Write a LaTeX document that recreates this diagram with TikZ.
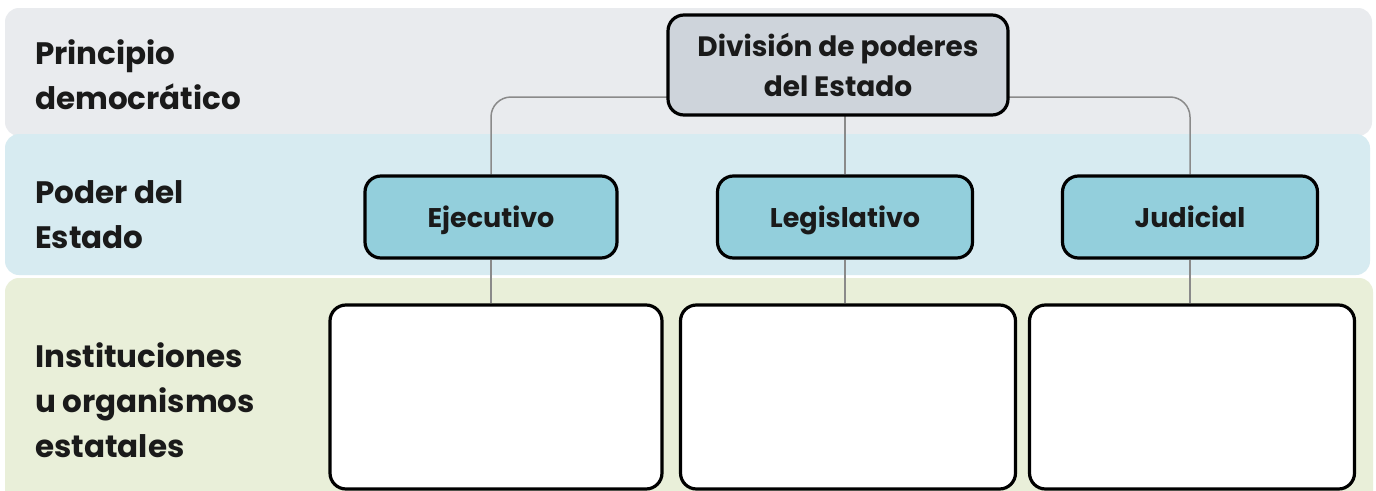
\documentclass[tikz,border=0pt]{standalone}
\usepackage{fontspec}
\setmainfont{Poppins}
\pgfdeclarelayer{bg}
\pgfdeclarelayer{lines}
\pgfsetlayers{bg,lines,main}
\definecolor{bandgray}{HTML}{E9EBEE}
\definecolor{bandblue}{HTML}{D7EBF1}
\definecolor{bandgreen}{HTML}{E9EFD9}
\definecolor{topfill}{HTML}{CED4DB}
\definecolor{powfill}{HTML}{93CFDC}
\definecolor{connc}{HTML}{8A8A8A}
\definecolor{txt}{HTML}{1A1A1A}
\tikzset{
  band/.style={rounded corners=14pt},
  rowlabel/.style={anchor=west, align=left, text=txt, font=\fontsize{31}{45}\selectfont\bfseries, inner sep=0pt},
  box/.style={draw=black, line width=3.2pt, rounded corners=16pt, inner sep=0pt, text=txt},
  topbox/.style={box, fill=topfill, font=\fontsize{28}{40}\selectfont\bfseries, align=center},
  powbox/.style={box, fill=powfill, font=\fontsize{27}{30}\selectfont\bfseries, text height=22pt, text depth=2pt},
  instbox/.style={box, fill=white},
  conn/.style={draw=connc, line width=1.5pt, rounded corners=20pt},
}
\begin{document}
\begin{tikzpicture}[x=1pt, y=-1pt]
\useasboundingbox (0,0) rectangle (1376,490);
\clip (0,0) rectangle (1376,490);
\begin{pgfonlayer}{bg}
\fill[white] (0,0) rectangle (1376,490);
\fill[bandgray, band] (5,8) rectangle (1372,136);
\fill[bandblue, band] (5,134) rectangle (1370,275);
\fill[bandgreen, band] (5,278) rectangle (1373,520);
\end{pgfonlayer}

\node[rowlabel] (l1) at (35,75) {Principio\\democrático};
\node[rowlabel] (l2) at (35,215) {Poder del\\Estado};
\node[rowlabel] (l3) at (35,400) {Instituciones\\u organismos\\estatales};

\node[topbox, minimum width=340pt, minimum height=100pt] (div) at (838,65) {División de poderes\\del Estado};

\node[powbox, minimum width=252pt, minimum height=82pt] (ej) at (491,217) {Ejecutivo};
\node[powbox, minimum width=255pt, minimum height=82pt] (le) at (845,217) {Legislativo};
\node[powbox, minimum width=255pt, minimum height=82pt] (ju) at (1190,217) {Judicial};

\node[instbox, minimum width=332pt, minimum height=184pt] (i1) at (496,397) {};
\node[instbox, minimum width=335pt, minimum height=184pt] (i2) at (848,397) {};
\node[instbox, minimum width=325pt, minimum height=184pt] (i3) at (1192,397) {};

\coordinate (hub) at (845,97);
\begin{pgfonlayer}{lines}
\draw[conn] (ej.north) |- (hub) -| (ju.north);
\draw[conn] (hub) -- (le.north);
\draw[conn] (ej.south) -- (ej.south |- i1.north);
\draw[conn] (le.south) -- (le.south |- i2.north);
\draw[conn] (ju.south) -- (ju.south |- i3.north);
\end{pgfonlayer}
\end{tikzpicture}
\end{document}
